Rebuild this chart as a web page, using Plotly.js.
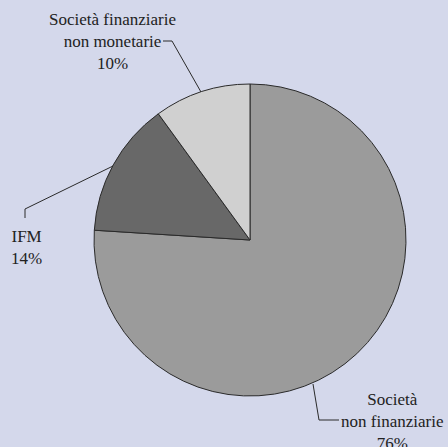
<!DOCTYPE html>
<html>
<head>
<meta charset="utf-8">
<script src="https://cdn.plot.ly/plotly-3.0.1.min.js"></script>
<style>
  html, body { margin: 0; padding: 0; background: #d4d8eb; }
  #chart { width: 448px; height: 447px; }
</style>
</head>
<body>
<div id="chart"></div>
<script>
// Composizione per settore emittente (quote percentuali)
const categories = ['Società non finanziarie', 'IFM', 'Società finanziarie non monetarie'];
const shares = [76, 14, 10];
const sliceColors = ['#9b9b9b', '#686868', '#d0d0d0'];
const labelTexts = [
  'Società<br>non finanziarie<br>76%',
  'IFM<br>14%',
  'Società finanziarie<br>non monetarie<br>10%'
];

const W = 448, H = 447;
// pixel -> paper helpers (margins are zero, so paper spans the whole page)
const px = x => x / W;
const py = y => 1 - y / H;

// pie disc: centre (250, 240), radius 156 px
const cx = 250, cy = 240, r = 156;

const trace = {
  type: 'pie',
  labels: categories,
  values: shares,
  sort: false,
  direction: 'clockwise',
  rotation: 0,
  textinfo: 'none',
  hoverinfo: 'label+percent',
  marker: { colors: sliceColors, line: { color: '#2a2a2a', width: 1 } },
  domain: { x: [px(cx - r), px(cx + r)], y: [py(cy + r), py(cy - r)] },
  showlegend: false
};

// leader lines (pixel polylines)
const leaders = [
  [[313, 384], [319, 420], [339, 420]],
  [[25, 218], [25, 209], [113, 166]],
  [[163, 41], [172, 41], [201, 92]]
];
const shapes = leaders.map(pts => ({
  type: 'path',
  xref: 'paper', yref: 'paper',
  path: pts.map((p, i) => (i ? 'L' : 'M') + px(p[0]) + ',' + py(p[1])).join(' '),
  line: { color: '#2a2a2a', width: 1 }
}));

const labelPos = [[392, 421], [26, 247], [112, 42]];
const serif = 'Liberation Serif, Times New Roman, Times, serif';
const annotations = labelTexts.map((t, i) => ({
  text: t,
  xref: 'paper', yref: 'paper',
  x: px(labelPos[i][0]), y: py(labelPos[i][1]),
  xanchor: 'center', yanchor: 'middle', align: 'center',
  showarrow: false,
  font: { family: serif, size: 17, color: '#222222' }
}));

const layout = {
  width: W, height: H,
  margin: { l: 0, r: 0, t: 0, b: 0 },
  paper_bgcolor: '#d4d8eb',
  plot_bgcolor: '#d4d8eb',
  font: { family: serif },
  shapes: shapes,
  annotations: annotations
};

Plotly.newPlot('chart', [trace], layout, { displayModeBar: false, staticPlot: true });
</script>
</body>
</html>
